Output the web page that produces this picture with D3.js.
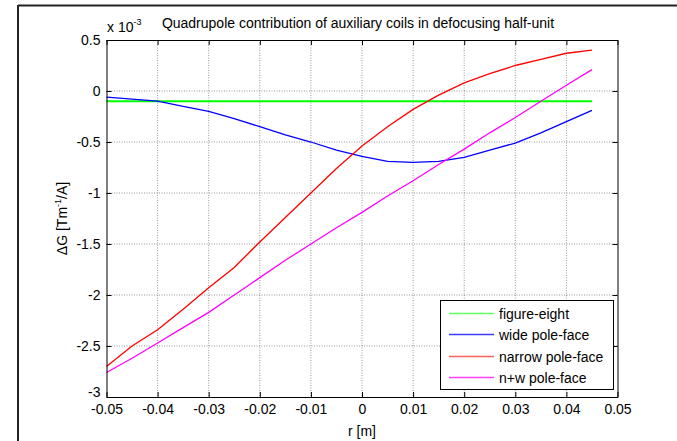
<!DOCTYPE html>
<html>
<head>
<meta charset="utf-8">
<script src="https://cdn.jsdelivr.net/npm/d3@7"></script>
<style>
  body { margin: 0; background: #fff; }
  svg { display: block; font-family: Arial, "Liberation Sans", sans-serif; }
</style>
</head>
<body>
<svg id="chart" width="677" height="441"></svg>
<script>
// r positions [m]
const rValues = [-0.05, -0.045, -0.04, -0.035, -0.03, -0.025, -0.02, -0.015, -0.01, -0.005,
                 0, 0.005, 0.01, 0.015, 0.02, 0.025, 0.03, 0.035, 0.04, 0.045];

// dG values in units of 1e-3 Tm^-1/A
const figureEight = [-0.1, -0.1, -0.1, -0.1, -0.1, -0.1, -0.1, -0.1, -0.1, -0.1,
                     -0.1, -0.1, -0.1, -0.1, -0.1, -0.1, -0.1, -0.1, -0.1, -0.1];
const widePole = [-0.06, -0.08, -0.10, -0.15, -0.20, -0.27, -0.35, -0.43, -0.50, -0.58,
                  -0.64, -0.69, -0.70, -0.69, -0.65, -0.58, -0.51, -0.41, -0.30, -0.19];
const narrowPole = [-2.70, -2.50, -2.34, -2.14, -1.93, -1.73, -1.48, -1.24, -1.00, -0.76,
                    -0.54, -0.35, -0.18, -0.04, 0.08, 0.17, 0.25, 0.31, 0.37, 0.40];
const nwPole = [-2.76, -2.62, -2.47, -2.32, -2.17, -2.00, -1.83, -1.66, -1.50, -1.34,
                -1.19, -1.03, -0.88, -0.72, -0.57, -0.41, -0.26, -0.10, 0.056, 0.21];

const xTicks = [-0.05, -0.04, -0.03, -0.02, -0.01, 0, 0.01, 0.02, 0.03, 0.04, 0.05];
const yTicks = [0.5, 0, -0.5, -1, -1.5, -2, -2.5, -3];

const seriesNames = ["figure-eight", "wide pole-face", "narrow pole-face", "n+w pole-face"];
const seriesValues = [figureEight, widePole, narrowPole, nwPole];
const seriesColors = ["#00ff00", "#0000ff", "#ff0000", "#ff00ff"];
const legendColors = ["#5cff5c", "#3c3cff", "#ff6060", "#ff40ff"];
const seriesWidths = [2, 1.3, 1.3, 1.3];

const fontSize = 14;
const svg = d3.select("#chart");

// figure frame (top and left edges visible)
svg.append("line").attr("x1", 18).attr("y1", 5.5).attr("x2", 677).attr("y2", 5.5)
    .attr("stroke", "#222").attr("stroke-width", 2);
svg.append("line").attr("x1", 18).attr("y1", 5).attr("x2", 18).attr("y2", 441)
    .attr("stroke", "#222").attr("stroke-width", 2);

const plot = { left: 106.5, right: 617.5, top: 40, bottom: 397 };

const x = d3.scaleLinear().domain([-0.05, 0.05]).range([plot.left, plot.right]);
const y = d3.scaleLinear().domain([-3, 0.5]).range([plot.bottom, plot.top]);

// grid
const grid = svg.append("g").attr("stroke", "#555").attr("stroke-width", 0.6)
    .attr("stroke-dasharray", "1,1.5");
xTicks.slice(1, -1).forEach(t => {
    grid.append("line").attr("x1", x(t)).attr("x2", x(t))
        .attr("y1", plot.top).attr("y2", plot.bottom);
});
yTicks.slice(1, -1).forEach(t => {
    grid.append("line").attr("y1", y(t)).attr("y2", y(t))
        .attr("x1", plot.left).attr("x2", plot.right);
});

// series
const line = d3.line().x((d, i) => x(rValues[i])).y(d => y(d));
seriesValues.forEach((vals, k) => {
    svg.append("path").datum(vals)
        .attr("fill", "none")
        .attr("stroke", seriesColors[k])
        .attr("stroke-width", seriesWidths[k])
        .attr("d", line);
});

// axes (box with inward ticks)
const tickLen = 5;
const fmt = d => String(+(+d).toFixed(2));
const bottomAxis = d3.axisBottom(x).tickValues(xTicks).tickSize(-tickLen).tickSizeOuter(0)
    .tickPadding(7).tickFormat(fmt);
const topAxis = d3.axisTop(x).tickValues(xTicks).tickSize(-tickLen).tickSizeOuter(0).tickFormat("");
const leftAxis = d3.axisLeft(y).tickValues(yTicks).tickSize(-tickLen).tickSizeOuter(0)
    .tickPadding(6).tickFormat(fmt);
const rightAxis = d3.axisRight(y).tickValues(yTicks).tickSize(-tickLen).tickSizeOuter(0).tickFormat("");

function styleAxis(g) {
    g.selectAll("path").attr("stroke", "#000").attr("stroke-width", 1);
    g.selectAll("line").attr("stroke", "#000").attr("stroke-width", 1);
    g.selectAll("text").attr("fill", "#000").attr("font-size", fontSize)
        .attr("font-family", "Arial, 'Liberation Sans', sans-serif");
}

svg.append("g").attr("transform", `translate(0,${plot.bottom})`).call(bottomAxis).call(styleAxis);
svg.append("g").attr("transform", `translate(0,${plot.top})`).call(topAxis).call(styleAxis);
const leftG = svg.append("g").attr("transform", `translate(${plot.left},0)`).call(leftAxis).call(styleAxis);
svg.append("g").attr("transform", `translate(${plot.right},0)`).call(rightAxis).call(styleAxis);

// lift the bottom y label a little, as in the reference
leftG.selectAll(".tick text").filter(d => d === -3).attr("dy", "-0.05em");

// exponent label
const expo = svg.append("text").attr("x", 107).attr("y", 32).attr("font-size", fontSize);
expo.append("tspan").text("x 10");
expo.append("tspan").attr("dy", -7).attr("font-size", 9).text("-3");

// title
svg.append("text").attr("x", 358).attr("y", 28).attr("text-anchor", "middle")
    .attr("font-size", fontSize).text("Quadrupole contribution of auxiliary coils in defocusing half-unit");

// x label
svg.append("text").attr("x", x(0)).attr("y", 436).attr("text-anchor", "middle")
    .attr("font-size", fontSize).text("r [m]");

// y label
const yl = svg.append("text").attr("transform", `translate(67,${(plot.top + plot.bottom) / 2}) rotate(-90)`)
    .attr("text-anchor", "middle").attr("font-size", fontSize);
yl.append("tspan").text("\u0394G [Tm");
yl.append("tspan").attr("dy", -6).attr("font-size", 9).text("-1");
yl.append("tspan").attr("dy", 6).text("/A]");

// legend
const legend = svg.append("g");
legend.append("rect").attr("x", 440.5).attr("y", 300.5).attr("width", 173).attr("height", 89)
    .attr("fill", "#fff").attr("stroke", "#000").attr("stroke-width", 1);
seriesNames.forEach((name, k) => {
    const ly = Math.round(313 + k * 21.3) + 0.5;
    legend.append("line").attr("x1", 449).attr("x2", 494).attr("y1", ly).attr("y2", ly)
        .attr("stroke", legendColors[k]).attr("stroke-width", 1.3);
    legend.append("text").attr("x", 499).attr("y", ly + 5).attr("font-size", fontSize).text(name);
});
</script>
</body>
</html>
